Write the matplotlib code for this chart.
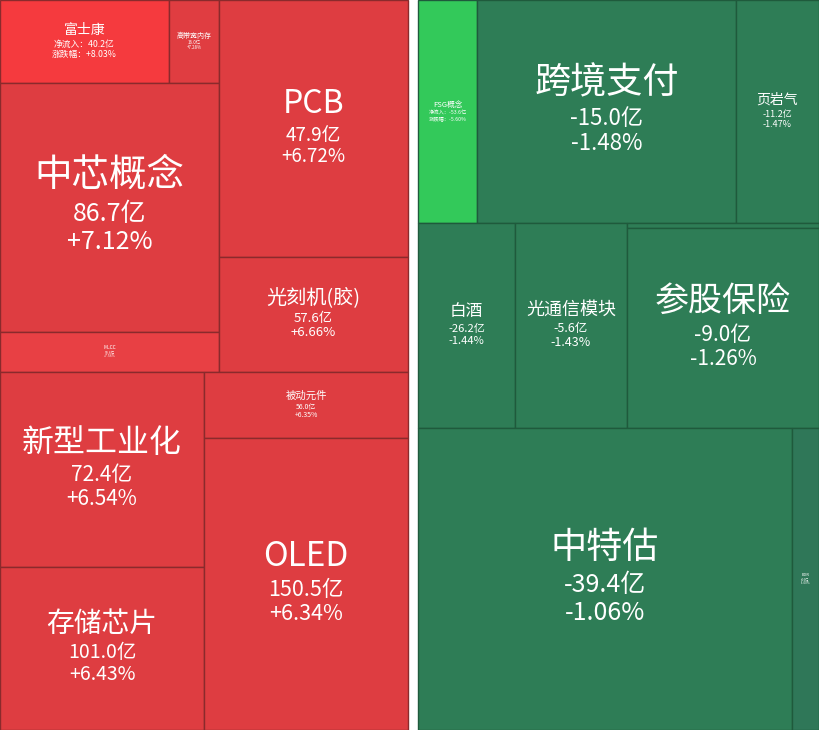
import matplotlib
matplotlib.use('Agg')
import matplotlib.pyplot as plt
from matplotlib.patches import Rectangle

plt.rcParams['font.family'] = ['Noto Sans CJK SC', 'DejaVu Sans']

# 资金流入板块（左）
up_names = ['富士康', '高带宽内存', '中芯概念', 'MLCC', 'PCB', '光刻机(胶)',
            '新型工业化', '存储芯片', '被动元件', 'OLED']
up_flow = [40.2, 16.0, 86.7, 50.6, 47.9, 57.6, 72.4, 101.0, 56.0, 150.5]
up_pct = [8.03, 7.28, 7.12, 7.56, 6.72, 6.66, 6.54, 6.43, 6.35, 6.34]
up_size = [140, 42, 545, 88, 486, 217, 398, 333, 135, 596]
up_tree = [[[[0, 1], 2, 3], [4, 5]], [[6, 7], [8, 9]]]

# 资金流出板块（右）
down_names = ['FSG概念', '跨境支付', '页岩气', '白酒', '光通信模块', '其他',
              '参股保险', '中特估', 'EDR']
down_flow = [-53.6, -15.0, -11.2, -26.2, -5.6, -0.3, -9.0, -39.4, -4.6]
down_pct = [-5.60, -1.48, -1.47, -1.44, -1.43, -1.30, -1.26, -1.06, -1.00]
down_size = [132, 578, 185, 199, 230, 10, 384, 1129, 82]
down_tree = [[0, 1, 2], [3, 4, [5, 6]], [7, 8]]

# 样式：标题字号、数值字号、是否长标签、底色
up_style = [(10, 6.3, True, '#f53a3e'), (5, 3.2, False, '#e03d41'),
            (27, 18, False, '#de3d41'), (3.5, 2.5, False, '#e84044'),
            (23, 13.5, False, '#de3d41'), (14.5, 9.5, False, '#de3d41'),
            (23, 15, False, '#de3d41'), (20, 14, False, '#de3d41'),
            (7.5, 5, False, '#de3d41'), (24, 15.5, False, '#de3d41')]
down_style = [(5.5, 3.8, True, '#33c95a'), (26, 16, False, '#2e7d56'),
              (10, 6.5, False, '#2e7d56'), (12, 8, False, '#2e7d56'),
              (13, 9, False, '#2e7d56'), (0, 0, False, '#2e7d56'),
              (24.5, 15, False, '#2e7d56'), (26, 18, False, '#2e7d56'),
              (3, 2.2, False, '#2f7758')]


def weight(node, sizes):
    if isinstance(node, int):
        return sizes[node]
    return sum(weight(c, sizes) for c in node)


def layout(node, x, y, w, h, vertical, sizes, out):
    if isinstance(node, int):
        out[node] = (x, y, w, h)
        return
    total = weight(node, sizes)
    pos = 0.0
    for child in node:
        frac = weight(child, sizes) / total
        if vertical:
            layout(child, x, y + pos * h, w, frac * h, False, sizes, out)
        else:
            layout(child, x + pos * w, y, frac * w, h, True, sizes, out)
        pos += frac


def put_label(ax, cx, cy, lines):
    px = [fs * 100 / 72 for _, fs in lines]
    slots = [p * 1.3 if i == 0 else p * 1.12 for i, p in enumerate(px)]
    y = cy - sum(slots) / 2 - 0.1 * px[0]
    for (txt, fs), s in zip(lines, slots):
        ax.text(cx, y + s / 2, txt, color='white', fontsize=fs,
                fontweight='light', ha='center', va='center')
        y += s


def draw_panel(ax, x0, x1, names, flow, pct, sizes, tree, style, edge):
    rects = {}
    layout(tree, x0, 0, x1 - x0, 730, True, sizes, rects)
    for i, name in enumerate(names):
        x, y, w, h = rects[i]
        tfs, vfs, long_lbl, color = style[i]
        ax.add_patch(Rectangle((x, y), w, h, facecolor=color,
                               edgecolor=edge, linewidth=1.0))
        if tfs == 0:
            continue
        if long_lbl:
            lines = [(name, tfs), (f'净流入：{flow[i]:.1f}亿', vfs),
                     (f'涨跌幅：{pct[i]:+.2f}%', vfs)]
        else:
            lines = [(name, tfs), (f'{flow[i]:.1f}亿', vfs),
                     (f'{pct[i]:+.2f}%', vfs)]
        put_label(ax, x + w / 2, y + h / 2, lines)


fig = plt.figure(figsize=(8.19, 7.3), dpi=100)
ax = fig.add_axes([0, 0, 1, 1])
ax.set_xlim(0, 819)
ax.set_ylim(730, 0)
ax.axis('off')

draw_panel(ax, 0, 408, up_names, up_flow, up_pct, up_size, up_tree,
           up_style, '#8a2a2c')
draw_panel(ax, 418, 819, down_names, down_flow, down_pct, down_size,
           down_tree, down_style, '#1f5a3c')

plt.savefig('out.png', dpi=100, facecolor='white')
plt.close()
